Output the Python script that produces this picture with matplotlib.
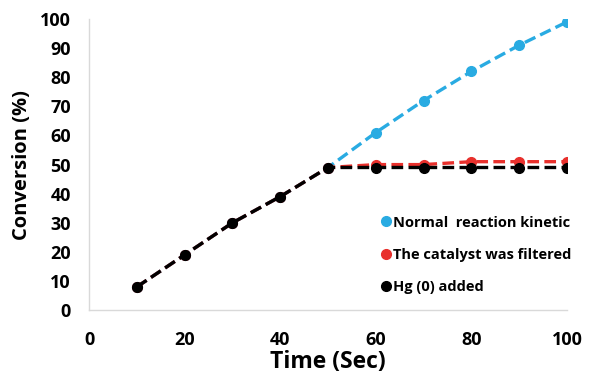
import matplotlib
matplotlib.use("Agg")
import matplotlib.pyplot as plt

plt.rcParams['font.family'] = ['Open Sans', 'DejaVu Sans']
plt.rcParams['font.weight'] = 'bold'

# conversion vs time for the three runs
time = [10, 20, 30, 40, 50, 60, 70, 80, 90, 100]
normal = [8, 19, 30, 39, 49, 61, 72, 82, 91, 99]
filtered = [8, 19, 30, 39, 49, 50, 50, 51, 51, 51]
hg_added = [8, 19, 30, 39, 49, 49, 49, 49, 49, 49]

fig = plt.figure(figsize=(5.98, 3.81), dpi=100)
ax = fig.add_axes([0.149, 0.186, 0.799, 0.764])

ax.plot(time, normal, '--o', color='#29abe2', lw=2.4, ms=7,
        dashes=(3.5, 1.6), label='Normal  reaction kinetic')
ax.plot(time, filtered, '--o', color='#e8302c', lw=2.4, ms=7,
        dashes=(3.5, 1.6), label='The catalyst was filtered')
ax.plot(time, hg_added, '--o', color='black', lw=2.4, ms=7,
        dashes=(3.5, 1.6), label='Hg (0) added')

ax.set_xlim(0, 100)
ax.set_ylim(0, 100)
ax.set_xticks(range(0, 101, 20))
ax.set_yticks(range(0, 101, 10))
ax.tick_params(length=0, labelsize=13)
ax.tick_params(axis='y', pad=13)
ax.tick_params(axis='x', pad=15)
for lab in ax.get_xticklabels() + ax.get_yticklabels():
    lab.set_fontweight('bold')

for side in ['top', 'right']:
    ax.spines[side].set_visible(False)
for side in ['left', 'bottom']:
    ax.spines[side].set_color('#d9d9d9')
    ax.spines[side].set_linewidth(1)

ax.set_xlabel('Time (Sec)', fontsize=16.5, fontweight='bold', labelpad=1)
ax.set_ylabel('Conversion (%)', fontsize=14.5, fontweight='bold', labelpad=6)

# legend shows only the markers
handles = [plt.Line2D([], [], ls='none', marker='o', ms=7, color=c)
           for c in ['#29abe2', '#e8302c', 'black']]
labels = ['Normal  reaction kinetic', 'The catalyst was filtered', 'Hg (0) added']
ax.legend(handles, labels, loc='upper left', bbox_to_anchor=(0.585, 0.37),
          frameon=False, handlelength=0.6, handletextpad=0.2,
          labelspacing=1.25, prop={'size': 10.5, 'weight': 'bold'})

fig.savefig('out.png', dpi=100)
